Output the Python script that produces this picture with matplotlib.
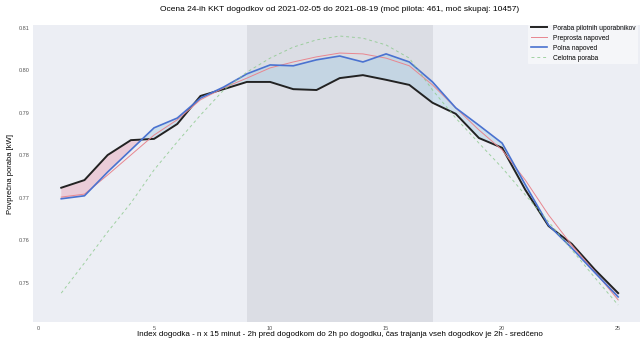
import matplotlib
matplotlib.use("Agg")
import matplotlib.pyplot as plt
import numpy as np

# indeks dogodka (n x 15 minut)
idx = np.arange(1, 26)

poraba_pilot = [0.7724, 0.7742, 0.7801, 0.7836, 0.7839, 0.7874, 0.7940, 0.7956,
                0.7973, 0.7973, 0.7956, 0.7954, 0.7982, 0.7989, 0.7978, 0.7966,
                0.7924, 0.7898, 0.7841, 0.7818, 0.7719, 0.7634, 0.7592, 0.7531,
                0.7476]
preprosta = [0.7702, 0.7709, 0.7754, 0.7801, 0.7848, 0.7884, 0.7931, 0.7959,
             0.7982, 0.8006, 0.8020, 0.8032, 0.8041, 0.8039, 0.8029, 0.8011,
             0.7966, 0.7912, 0.7860, 0.7813, 0.7742, 0.7660, 0.7589, 0.7526,
             0.7460]
polna = [0.7698, 0.7705, 0.7761, 0.7813, 0.7865, 0.7888, 0.7935, 0.7961,
         0.7992, 0.8013, 0.8011, 0.8025, 0.8034, 0.8020, 0.8039, 0.8020,
         0.7973, 0.7912, 0.7871, 0.7829, 0.7731, 0.7636, 0.7582, 0.7524,
         0.7467]
celotna = [0.7476, 0.7547, 0.7620, 0.7688, 0.7766, 0.7832, 0.7895, 0.7954,
           0.7996, 0.8029, 0.8055, 0.8072, 0.8081, 0.8076, 0.8060, 0.8029,
           0.7954, 0.7888, 0.7829, 0.7771, 0.7707, 0.7644, 0.7578, 0.7512,
           0.7448]

event_start, event_end = 9, 17

plt.rcParams['font.family'] = ['Liberation Sans', 'DejaVu Sans']

fig = plt.figure(figsize=(6.4, 3.4), dpi=100)
ax = fig.add_axes([33.4 / 640, 18 / 340, 612.6 / 640, 297 / 340])
ax.set_facecolor('#eceef4')
for s in ax.spines.values():
    s.set_visible(False)

# obdobje dogodka
ax.axvspan(event_start, event_end, color='#9a9aa5', alpha=0.2, lw=0)

pil = np.array(poraba_pilot)
pol = np.array(polna)
ax.fill_between(idx, pil, pol, where=pil >= pol, interpolate=True,
                color='#e8a4b8', alpha=0.45, lw=0)
ax.fill_between(idx, pil, pol, where=pil < pol, interpolate=True,
                color='#a9cde3', alpha=0.45, lw=0)

ax.plot(idx, poraba_pilot, color='#222222', lw=1.4, label='Poraba pilotnih uporabnikov')
ax.plot(idx, preprosta, color='#e8868f', lw=0.7, label='Preprosta napoved')
ax.plot(idx, polna, color='#4a72d0', lw=1.2, label='Polna napoved')
ax.plot(idx, celotna, color='#8cc98c', lw=0.7, ls=(0, (3, 3)), alpha=0.8,
        label='Celotna poraba')

ax.set_xlim(-0.2, 26.2)
ax.set_ylim(0.7408, 0.8107)
ax.set_xticks([0, 5, 10, 15, 20, 25])
ax.set_yticks([0.75, 0.76, 0.77, 0.78, 0.79, 0.80, 0.81])
ax.tick_params(length=0, labelsize=4, labelcolor='#555555', pad=3)

ax.set_title('Ocena 24-ih KKT dogodkov od 2021-02-05 do 2021-08-19 '
             '(moč pilota: 461, moč skupaj: 10457)', fontsize=6, pad=10)
ax.set_xlabel('Index dogodka - n x 15 minut - 2h pred dogodkom do 2h po dogodku, '
              'čas trajanja vseh dogodkov je 2h - sredčeno', fontsize=5.8,
              labelpad=0)
ax.set_ylabel('Povprečna poraba [kW]', fontsize=5.5, labelpad=3)

leg = ax.legend(loc='upper right', bbox_to_anchor=(0.997, 0.935),
                bbox_transform=fig.transFigure, fontsize=4.8, frameon=True,
                handlelength=2.5, labelspacing=0.45, borderaxespad=0.0)
leg.get_frame().set_facecolor('white')
leg.get_frame().set_alpha(0.5)
leg.get_frame().set_edgecolor('none')

fig.savefig('out.png', dpi=100)
